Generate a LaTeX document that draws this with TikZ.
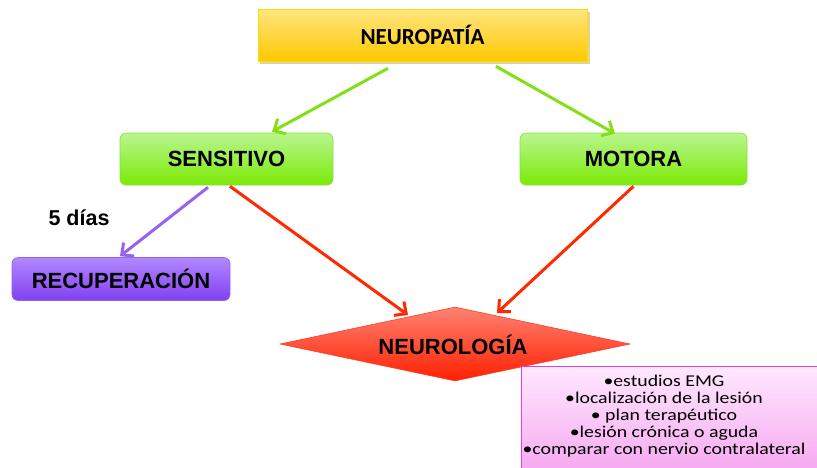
\documentclass[tikz,border=0pt]{standalone}
\usepackage{fontspec}
\setmainfont{Liberation Sans}
\newfontfamily\calib{Carlito}
\newfontfamily\calibw[FakeStretch=1.2]{Carlito}
\usetikzlibrary{arrows.meta,shapes.geometric}
\definecolor{arrgreen}{HTML}{84E016}
\definecolor{arrred}{HTML}{FF2A00}
\definecolor{arrpurple}{HTML}{9464F0}
\tikzset{
  x=1pt,y=-1pt,
  lbl/.style={font=\fontsize{22}{24}\selectfont\bfseries},
  greenbox/.style={draw={rgb,255:red,140;green,220;blue,64}, line width=0.6pt, rounded corners=6pt,
     top color={rgb,255:red,184;green,246;blue,142}, bottom color={rgb,255:red,124;green,234;blue,6},
     minimum width=213pt, minimum height=52pt, inner sep=0pt, lbl},
  conn/.style={line width=3pt, -{Straight Barb[length=9pt,width=17pt,line width=3pt]}},
}
\begin{document}
\begin{tikzpicture}
\useasboundingbox (0,0) rectangle (817,467);
% NEUROPATIA
\fill[black!25!yellow!60!brown!50] (260,12) rectangle (590,64);
\node[draw=yellow!80!orange, line width=0.6pt, top color={rgb,255:red,255;green,230;blue,128},
  bottom color={rgb,255:red,255;green,200;blue,0}, minimum width=329pt, minimum height=52pt,
  inner sep=0pt, font=\calib\fontsize{23}{24}\selectfont\bfseries] (neuropatia) at (422.5,35) {NEUROPATÍA};
% SENSITIVO, MOTORA
\node[greenbox] (sensitivo) at (226.5,159) {SENSITIVO};
\node[greenbox, minimum width=227pt] (motora) at (633.5,159) {MOTORA};
% RECUPERACION
\node[draw={rgb,255:red,150;green,100;blue,240}, line width=0.6pt, rounded corners=6pt,
  top color={rgb,255:red,178;green,136;blue,255}, bottom color={rgb,255:red,128;green,64;blue,240},
  minimum width=218pt, minimum height=43pt, inner sep=0pt, lbl] (recup) at (121,279) {RECUPERACIÓN};
\node[font=\fontsize{21.5}{24}\selectfont\bfseries] (dias) at (79,218) {5 días};
% NEUROLOGIA diamond
\node[diamond, aspect=4.7, draw={rgb,255:red,255;green,60;blue,40}, line width=0.6pt,
  top color={rgb,255:red,255;green,130;blue,115}, bottom color={rgb,255:red,255;green,32;blue,0},
  minimum width=350pt, minimum height=74pt, inner sep=0pt] (neuro) at (455,344) {};
\node[lbl] (neurotxt) at (453,345) {NEUROLOGÍA};
% pink box
\node[draw={rgb,255:red,224;green,64;blue,224}, line width=0.8pt,
  top color={rgb,255:red,255;green,232;blue,255}, bottom color={rgb,255:red,246;green,168;blue,240},
  minimum width=300pt, minimum height=106pt, inner sep=0pt, anchor=north west] (info) at (521,366) {};
\node[align=center, font=\calibw\fontsize{16.5}{17.2}\selectfont, inner sep=0pt] (infotxt) at (664,416)
  {•estudios EMG\\•localización de la lesión\\• plan terapéutico\\•lesión crónica o aguda\\•comparar con nervio contralateral};
% connectors
\draw[conn, arrgreen] ([xshift=-34.5pt,yshift=-7pt]neuropatia.south) -- ([xshift=45.5pt,yshift=1pt]sensitivo.north);
\draw[conn, arrgreen] ([xshift=73.5pt,yshift=-5pt]neuropatia.south) -- ([xshift=-18.5pt,yshift=-1pt]motora.north);
\draw[conn, arrpurple] ([xshift=-18.5pt,yshift=-2pt]sensitivo.south) -- ([xshift=-1pt,yshift=1pt]recup.north);
\draw[conn, arrred] ([xshift=3.5pt,yshift=-1pt]sensitivo.south) -- (408,315);
\draw[conn, arrred] ([xshift=0pt,yshift=-1pt]motora.south) -- (497,313);
\end{tikzpicture}
\end{document}
